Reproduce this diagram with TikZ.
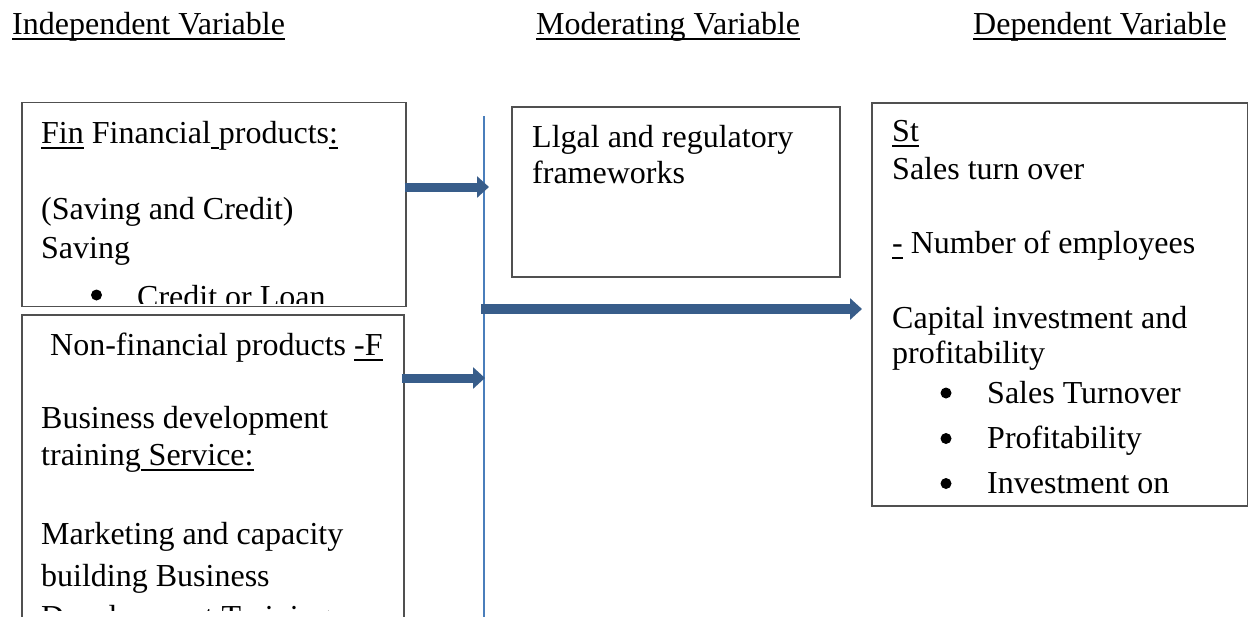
\documentclass[tikz,border=0pt]{standalone}
\usepackage{fontspec}
\setmainfont{Liberation Serif}
\usetikzlibrary{arrows.meta}
\definecolor{arrowblue}{HTML}{385D8A}
\definecolor{lineblue}{HTML}{4A7EBB}
\definecolor{boxgray}{HTML}{505050}
\newcommand\myul[1]{\setbox0\hbox{#1}\rlap{\rule[-5.5pt]{\wd0}{2pt}}\box0\relax}
\begin{document}
\begin{tikzpicture}[x=1pt,y=-1pt,
  txt/.style={anchor=base west, inner sep=0pt, font=\fontsize{32}{36}\selectfont},
  box/.style={draw=boxgray, line width=1.5pt, anchor=north west, inner sep=0pt},
  dot/.style={circle, fill=black, inner sep=0pt, minimum size=11pt},
  fat/.style={draw=arrowblue, line width=9pt, -{Triangle[width=21pt,length=12pt]}},
  vline/.style={draw=lineblue, line width=2pt}]
\useasboundingbox (0,0) rectangle (1248,616);
\clip (0,0) rectangle (1248,616);

% headers
\node[txt] (h1) at (12,34) {\myul{Independent Variable}};
\node[txt] (h2) at (536,34) {\myul{Moderating Variable}};
\node[txt] (h3) at (973,34) {\myul{Dependent Variable}};

% boxes
\node[box, minimum width=384pt, minimum height=204pt] (fin) at (21,101.5) {};
\node[box, minimum width=382pt, minimum height=330pt] (nonfin) at (21,314) {};
\node[box, minimum width=328pt, minimum height=170pt] (legal) at (511,106) {};
\node[box, minimum width=376pt, minimum height=403pt] (dep) at (871,102) {};

% vertical moderating line
\coordinate (vtop) at (483.5,116);
\coordinate (vbot) at (483.5,620);
\draw[vline] (vtop) -- (vbot);

% financial box text
\begin{scope}
\clip (21,101.5) rectangle (405,303);
\node[txt] (f1) at (41,143.5) {\myul{Fin} Financial\myul{\ }products\myul{:}};
\node[txt] (f2) at (41,219) {(Saving and Credit)};
\node[txt] (f3) at (41,258.5) {Saving};
\node[dot] (f4b) at (96.5,295) {};
\node[txt] (f4) at (137,307) {Credit or Loan};
\end{scope}

% non-financial box text
\node[txt] (n1) at (50,355.5) {Non-financial products \myul{-F}};
\node[txt] (n2) at (41,428.5) {Business development};
\node[txt] (n3) at (41,465.5) {training\myul{\ Service:}};
\node[txt] (n4) at (41,544.5) {Marketing and capacity};
\node[txt] (n5) at (41,586.5) {building Business};
\begin{scope}
\clip (21,590) rectangle (403,610);
\node[txt] (n6) at (41,627) {Development Training};
\end{scope}

% legal box text
\node[txt] (l1) at (532,147.5) {Llgal and regulatory};
\node[txt] (l2) at (532,183.5) {frameworks};

% dependent box text
\node[txt] (d1) at (892,141.5) {\myul{St}};
\node[txt] (d2) at (892,179.5) {Sales turn over};
\node[txt] (d3) at (892,253.5) {\myul{-} Number of employees};
\node[txt] (d4) at (892,328) {Capital investment and};
\node[txt] (d5) at (892,363) {profitability};
\node[dot] (d6b) at (946,393) {};
\node[txt] (d6) at (987,403) {Sales Turnover};
\node[dot] (d7b) at (946,438.5) {};
\node[txt] (d7) at (987,448.5) {Profitability};
\node[dot] (d8b) at (946,483.5) {};
\node[txt] (d8) at (987,493.5) {Investment on};

% arrows
\coordinate (a1) at (489,187);
\draw[fat] ([xshift=-2pt]fin.east |- a1) -- (a1);
\coordinate (a2) at (481,309);
\draw[fat, line width=10pt] (a2) -- ([xshift=-9pt]dep.west |- a2);
\coordinate (a3) at (485,378);
\draw[fat] ([xshift=-3pt]nonfin.east |- a3) -- (a3);
\end{tikzpicture}
\end{document}
